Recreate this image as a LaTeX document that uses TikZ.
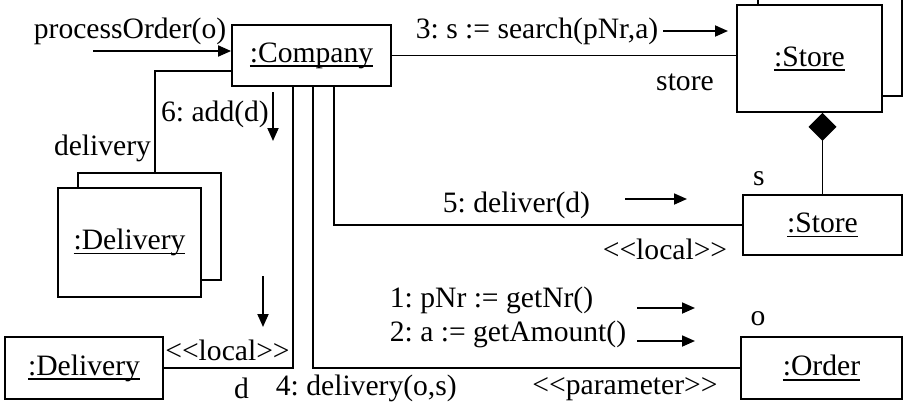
\documentclass[tikz,border=0pt]{standalone}
\usepackage{fontspec}
\setmainfont{Liberation Serif}
\usetikzlibrary{arrows.meta,positioning}
\newlength{\lw}
\setlength{\lw}{1.8pt}
\newsavebox{\objbox}
\newcommand{\objname}[1]{\sbox{\objbox}{#1}\rlap{\vrule height -3pt depth 4.6pt width \wd\objbox}\usebox{\objbox}}
\frenchspacing

\begin{document}
\begin{tikzpicture}[x=1pt,y=-1pt,line width=\lw,inner sep=0pt,
    font=\fontsize{29.6}{34}\selectfont,
    obj/.style={draw,fill=white},
    msg/.style={-{Triangle[length=13pt,width=11pt]}}]
\clip (0,0) rectangle (908,408);
% objects
\node[obj,minimum width=159pt,minimum height=61pt] (company) at (311.5,55.5) {\objname{:Company}};
\node[obj,minimum width=144pt,minimum height=107pt] (storeback) at (830,42.5) {};
\node[obj,minimum width=145pt,minimum height=107pt] (store) at (809.5,58.5) {\objname{:Store}};
\node[obj,minimum width=159pt,minimum height=60pt] (localstore) at (822.5,225) {\objname{:Store}};
\node[obj,minimum width=161pt,minimum height=62pt] (order) at (821.5,368) {\objname{:Order}};
\node[obj,minimum width=143pt,minimum height=107pt] (deliveryback) at (149.5,226.5) {};
\node[obj,minimum width=143pt,minimum height=109pt] (deliveries) at (129.5,242.5) {\objname{:Delivery}};
\node[obj,minimum width=158pt,minimum height=62pt] (delivery) at (84,368) {\objname{:Delivery}};
% links
\draw (company.east) -- (company.east -| store.west);
\draw ([yshift=-15.5pt]company.west) -| ([xshift=5.5pt]deliveryback.north);
\draw ([xshift=-18.5pt]company.south) |- (delivery.east);
\draw ([xshift=1.5pt]company.south) |- (order.west);
\draw ([xshift=22.5pt]company.south) |- (localstore.west);
\draw[-{Diamond[length=28pt,width=28pt]}] (localstore.north) -- (localstore.north |- store.south);
% roles and stereotypes
\node (storerole) at (685,82) {store};
\node (deliveryrole) at (102.5,148.5) {delivery};
\node (srole) at (759,179) {s};
\node (orole) at (758,319) {o};
\node (drole) at (241.5,388) {d};
\node (localA) at (665,249) {{<}{<}local{>}{>}};
\node (localB) at (227.5,350) {{<}{<}local{>}{>}};
\node (paramtag) at (625,389) {{<}{<}parameter{>}{>}};
% messages
\node[anchor=west] (ordermsg) at (33,31) {processOrder(o)};
\coordinate (caller) at (93,51);
\draw[msg] (caller) -- (caller -| company.west);
\node[anchor=west] (searchmsg) at (415,31) {3: s := search(pNr,a)};
\draw[msg] (663,31) -- (728,31);
\node (addmsg) at (215,114.5) {6: add(d)};
\draw[msg] (273,92) -- (273,141);
\node[anchor=west] (delivermsg) at (442,205) {5: deliver(d)};
\draw[msg] (625,199) -- (687,199);
\node[anchor=west] (nrmsg) at (389,300) {1: pNr := getNr()};
\draw[msg] (637,308) -- (695,308);
\node[anchor=west] (amountmsg) at (389,334) {2: a := getAmount()};
\draw[msg] (637,341) -- (695,341);
\node[anchor=west] (deliverymsg) at (275,388) {4: delivery(o,s)};
\draw[msg] (263,276) -- (263,327);
\end{tikzpicture}
\end{document}
